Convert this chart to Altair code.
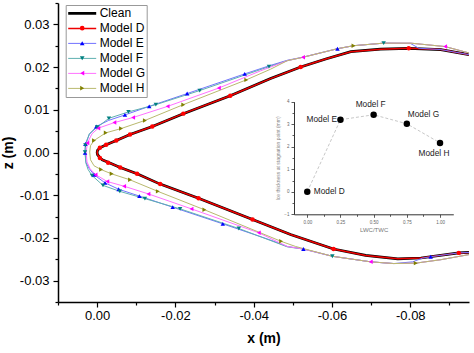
import altair as alt
import pandas as pd

FONT = "Liberation Sans"

series_all = ["Clean", "Model D", "Model E", "Model F", "Model G", "Model H"]
series_iced = ["Model D", "Model E", "Model F", "Model G", "Model H"]

# ---- clean airfoil outline (upper trailing -> leading edge -> lower trailing) ----
clean_x = [-0.0950, -0.0878, -0.0796, -0.0724, -0.0648, -0.0584, -0.0520, -0.0443, -0.0340,
           -0.0220, -0.0141, -0.0084, -0.0049, -0.0023, -0.0007, -0.0001, 0.0000, -0.0001,
           -0.0007, -0.0013, -0.0031, -0.0059, -0.0102, -0.0161, -0.0259, -0.0397, -0.0494,
           -0.0604, -0.0686, -0.0768, -0.0827, -0.0924, -0.0950]
clean_z = [0.0229, 0.0241, 0.0244, 0.0242, 0.0236, 0.0219, 0.0200, 0.0173, 0.0133,
           0.0091, 0.0061, 0.0042, 0.0028, 0.0018, 0.0011, 0.0005, 0.0000, -0.0005,
           -0.0012, -0.0017, -0.0024, -0.0035, -0.0050, -0.0074, -0.0107, -0.0157, -0.0192,
           -0.0226, -0.0241, -0.0249, -0.0247, -0.0235, -0.0234]

# Model D (no ice) follows the clean outline
D_x = clean_x
D_z = clean_z
D_mx = [-0.0796, -0.0520, -0.0340, -0.0220, -0.0141, -0.0084, -0.0049, -0.0023, -0.0007,
        -0.0007, -0.0028, -0.0059, -0.0102, -0.0161, -0.0259, -0.0397, -0.0604, -0.0924]
D_mz = [0.0244, 0.0200, 0.0133, 0.0091, 0.0061, 0.0042, 0.0028, 0.0018, 0.0011,
        -0.0013, -0.0024, -0.0035, -0.0050, -0.0074, -0.0107, -0.0157, -0.0226, -0.0235]

E_x = [-0.0950, -0.0878, -0.0822, -0.0801, -0.0732, -0.0655, -0.0614, -0.0525, -0.0486,
       -0.0443, -0.0377, -0.0230, -0.0133, -0.0071, -0.0029, 0.0002, 0.0020, 0.0030, 0.0031,
       0.0028, 0.0020, 0.0008, -0.0020, -0.0055, -0.0108, -0.0193, -0.0321, -0.0443, -0.0486,
       -0.0527, -0.0601, -0.0699, -0.0758, -0.0806, -0.0832, -0.0852, -0.0924, -0.0950]
E_z = [0.0229, 0.0241, 0.0244, 0.0255, 0.0256, 0.0250, 0.0243, 0.0223, 0.0216,
       0.0204, 0.0184, 0.0138, 0.0108, 0.0088, 0.0075, 0.0061, 0.0042, 0.0020, -0.0001,
       -0.0024, -0.0038, -0.0052, -0.0071, -0.0086, -0.0102, -0.0128, -0.0167, -0.0205, -0.0220,
       -0.0226, -0.0243, -0.0256, -0.0260, -0.0256, -0.0247, -0.0244, -0.0235, -0.0234]
E_mx = [-0.0614, -0.0377, -0.0230, -0.0133, -0.0071, 0.0002, 0.0030, 0.0031, 0.0008,
        -0.0020, -0.0055, -0.0108, -0.0193, -0.0321, -0.0527, -0.0852]
E_mz = [0.0243, 0.0184, 0.0138, 0.0108, 0.0088, 0.0061, 0.0020, -0.0001, -0.0052,
        -0.0071, -0.0086, -0.0102, -0.0128, -0.0167, -0.0226, -0.0244]

F_x = [-0.0950, -0.0889, -0.0801, -0.0732, -0.0655, -0.0614, -0.0526, -0.0486, -0.0439,
       -0.0262, -0.0150, -0.0080, -0.0030, 0.0000, 0.0020, 0.0030, 0.0031, 0.0029, 0.0023,
       0.0013, -0.0015, -0.0058, -0.0122, -0.0212, -0.0362, -0.0486, -0.0527, -0.0601,
       -0.0699, -0.0758, -0.0814, -0.0878, -0.0950]
F_z = [0.0233, 0.0248, 0.0256, 0.0256, 0.0250, 0.0243, 0.0223, 0.0215, 0.0201,
       0.0145, 0.0112, 0.0095, 0.0080, 0.0059, 0.0044, 0.0017, 0.0001, -0.0024, -0.0040,
       -0.0054, -0.0077, -0.0091, -0.0108, -0.0132, -0.0178, -0.0221, -0.0226, -0.0243,
       -0.0256, -0.0260, -0.0259, -0.0251, -0.0239]
F_mx = [-0.0732, -0.0439, -0.0262, -0.0150, -0.0080, -0.0030, 0.0000, 0.0030, 0.0031,
        0.0013, -0.0015, -0.0058, -0.0122, -0.0212, -0.0362, -0.0601]
F_mz = [0.0256, 0.0201, 0.0145, 0.0112, 0.0095, 0.0080, 0.0059, 0.0017, 0.0001,
        -0.0054, -0.0077, -0.0091, -0.0108, -0.0132, -0.0178, -0.0243]

G_x = [-0.0950, -0.0889, -0.0801, -0.0732, -0.0655, -0.0614, -0.0526, -0.0486, -0.0417,
       -0.0311, -0.0180, -0.0092, -0.0044, -0.0003, 0.0013, 0.0025, 0.0028, 0.0026, 0.0018,
       0.0004, -0.0026, -0.0069, -0.0131, -0.0241, -0.0413, -0.0486, -0.0527, -0.0601,
       -0.0699, -0.0758, -0.0814, -0.0878, -0.0950]
G_z = [0.0233, 0.0248, 0.0256, 0.0256, 0.0250, 0.0243, 0.0223, 0.0215, 0.0191,
       0.0151, 0.0108, 0.0082, 0.0070, 0.0057, 0.0044, 0.0022, 0.0000, -0.0022, -0.0038,
       -0.0052, -0.0068, -0.0079, -0.0097, -0.0132, -0.0188, -0.0220, -0.0226, -0.0243,
       -0.0256, -0.0260, -0.0259, -0.0251, -0.0239]
G_mx = [-0.0889, -0.0526, -0.0311, -0.0180, -0.0092, -0.0044, -0.0003, 0.0025, 0.0004,
        -0.0026, -0.0069, -0.0131, -0.0241, -0.0413, -0.0699]
G_mz = [0.0248, 0.0223, 0.0151, 0.0108, 0.0082, 0.0070, 0.0057, 0.0022, -0.0052,
        -0.0068, -0.0079, -0.0097, -0.0132, -0.0188, -0.0256]

H_x = [-0.0950, -0.0889, -0.0801, -0.0732, -0.0655, -0.0614, -0.0526, -0.0486, -0.0443,
       -0.0381, -0.0220, -0.0122, -0.0061, -0.0022, 0.0008, 0.0017, 0.0019, 0.0017, 0.0008,
       -0.0010, -0.0037, -0.0084, -0.0155, -0.0274, -0.0470, -0.0507, -0.0601, -0.0699,
       -0.0758, -0.0814, -0.0878, -0.0950]
H_z = [0.0233, 0.0248, 0.0256, 0.0256, 0.0250, 0.0243, 0.0223, 0.0215, 0.0195,
       0.0170, 0.0112, 0.0075, 0.0056, 0.0046, 0.0028, 0.0016, 0.0001, -0.0017, -0.0031,
       -0.0040, -0.0050, -0.0064, -0.0091, -0.0134, -0.0208, -0.0220, -0.0243, -0.0256,
       -0.0260, -0.0259, -0.0251, -0.0239]
H_mx = [-0.0655, -0.0381, -0.0220, -0.0122, -0.0061, -0.0022, 0.0008, -0.0010, -0.0037,
        -0.0084, -0.0155, -0.0274, -0.0470, -0.0814]
H_mz = [0.0250, 0.0170, 0.0112, 0.0075, 0.0056, 0.0046, 0.0028, -0.0040, -0.0050,
        -0.0064, -0.0091, -0.0134, -0.0208, -0.0259]

# ---- inset: ice thickness at stagnation point ----
inset_names = ["Model D", "Model E", "Model F", "Model G", "Model H"]
inset_lwc_twc = [0.00, 0.25, 0.50, 0.75, 1.00]
inset_thickness = [0.00, 3.20, 3.42, 3.02, 2.17]

# tick values
x_ticks = [0.01, 0.00, -0.01, -0.02, -0.03, -0.04, -0.05, -0.06, -0.07, -0.08, -0.09]
y_ticks = [-0.035, -0.03, -0.025, -0.02, -0.015, -0.01, -0.005, 0.0, 0.005, 0.01,
           0.015, 0.02, 0.025, 0.03, 0.035]
inset_x_ticks = [0.0, 0.125, 0.25, 0.375, 0.5, 0.625, 0.75, 0.875, 1.0]
inset_y_ticks = [-1, -0.5, 0, 0.5, 1, 1.5, 2, 2.5, 3, 3.5, 4]

line_colors = ["#000000", "#ee0000", "#7272ff", "#5fb0b0", "#ff72ff", "#b9b96e"]
line_widths = [2.7, 1.5, 1, 1, 1, 1]
marker_colors = ["#ff0000", "#0000ff", "#008080", "#ff00ff", "#808000"]
marker_shapes = ["circle", "triangle-up", "triangle-down", "triangle-left", "triangle-right"]

# ---- build tables ----
line_src = [("Clean", clean_x, clean_z), ("Model D", D_x, D_z), ("Model E", E_x, E_z),
            ("Model F", F_x, F_z), ("Model G", G_x, G_z), ("Model H", H_x, H_z)]
rows = []
for s, xs_, zs_ in line_src:
    for i, (a, b) in enumerate(zip(xs_, zs_)):
        rows.append({"series": s, "x": a, "z": b, "idx": i})
lines_df = pd.DataFrame(rows)

mark_src = [("Model D", D_mx, D_mz), ("Model E", E_mx, E_mz), ("Model F", F_mx, F_mz),
            ("Model G", G_mx, G_mz), ("Model H", H_mx, H_mz)]
mrows = []
for s, xs_, zs_ in mark_src:
    for a, b in zip(xs_, zs_):
        mrows.append({"series": s, "x": a, "z": b})
marks_df = pd.DataFrame(mrows)

inset_df = pd.DataFrame({"name": inset_names, "lwc": inset_lwc_twc, "thick": inset_thickness})

# ---- axes ----
x_major = "abs(datum.value*50 - round(datum.value*50)) < 0.001"
y_major = "abs(datum.value*100 - round(datum.value*100)) < 0.001"

x_axis = alt.Axis(
    values=x_ticks, title="x (m)",
    labelExpr=f"{x_major} ? replace(format(datum.value, '.2f'), '\u2212', '-') : ''",
    tickSize={"condition": {"test": x_major, "value": 5}, "value": 3},
    labelFontSize=13, labelFont=FONT, labelColor="black", labelPadding=2,
    titleFont=FONT, titleFontSize=14, titleFontWeight="bold", titleColor="black", titlePadding=9,
    domainColor="black", domainWidth=1.5, tickColor="black", tickWidth=1.2,
    labelFlush=False, labelOverlap=False, grid=False,
)
y_axis = alt.Axis(
    values=y_ticks, title="z (m)",
    labelExpr=f"{y_major} ? replace(format(datum.value, '.2f'), '\u2212', '-') : ''",
    tickSize={"condition": {"test": y_major, "value": 5}, "value": 3},
    labelFontSize=13, labelFont=FONT, labelColor="black", labelPadding=4,
    titleFont=FONT, titleFontSize=14, titleFontWeight="bold", titleColor="black", titlePadding=4,
    domainColor="black", domainWidth=1.5, tickColor="black", tickWidth=1.2,
    labelFlush=False, labelOverlap=False, grid=False,
)

xs = alt.Scale(domain=[0.01, -0.095], nice=False, zero=False)
ys = alt.Scale(domain=[-0.035, 0.035], nice=False, zero=False)

line_legend = alt.Legend(
    title=None, orient="none", legendX=7.7, legendY=2, symbolType="stroke", symbolSize=784,
    clipHeight=14.8, rowPadding=0, padding=1, strokeColor="#999999", labelFontSize=12,
    labelFont=FONT, labelColor="black", symbolOffset=0, labelOffset=2,
)
point_legend = alt.Legend(
    title=None, orient="none", legendX=7.7, legendY=16.8, clipHeight=14.8, rowPadding=0,
    padding=1, symbolSize=22, symbolOffset=9.5, labelFontSize=12, labelFont=FONT,
    labelExpr="''", symbolStrokeWidth=0,
)

lines = alt.Chart(lines_df).mark_line(clip=True).encode(
    x=alt.X("x:Q", scale=xs, axis=x_axis),
    y=alt.Y("z:Q", scale=ys, axis=y_axis),
    color=alt.Color("series:N", scale=alt.Scale(domain=series_all, range=line_colors),
                    legend=line_legend),
    strokeWidth=alt.StrokeWidth("series:N",
                                scale=alt.Scale(type="ordinal", domain=series_all, range=line_widths),
                                legend=line_legend),
    order=alt.Order("idx:Q"),
)

points = alt.Chart(marks_df).mark_point(filled=True, size=20, opacity=1, clip=True).encode(
    x=alt.X("x:Q", scale=xs, axis=x_axis),
    y=alt.Y("z:Q", scale=ys, axis=y_axis),
    fill=alt.Fill("series:N", scale=alt.Scale(domain=series_iced, range=marker_colors),
                  legend=point_legend),
    shape=alt.Shape("series:N", scale=alt.Scale(domain=series_iced, range=marker_shapes),
                    legend=point_legend),
)

main = alt.layer(lines, points)

# ---- inset ----
ix_axis = alt.Axis(
    orient="bottom", offset=-87.7, values=inset_x_ticks, title="LWC/TWC",
    labelExpr="abs(datum.value*4 - round(datum.value*4)) < 0.001 ? format(datum.value, '.2f') : ''",
    tickSize={"condition": {"test": "abs(datum.value*4 - round(datum.value*4)) < 0.001", "value": 3}, "value": 2},
    labelFontSize=4.5, labelFont=FONT, labelColor="#666666", labelPadding=2,
    titleFont=FONT, titleFontSize=6, titleFontWeight="normal", titleColor="#777777", titlePadding=3,
    domainColor="#333333", domainWidth=1, tickColor="#333333", tickWidth=0.8,
    labelFlush=False, labelOverlap=False, grid=False,
)
iy_axis = alt.Axis(
    orient="left", offset=-236, values=inset_y_ticks,
    title="Ice thickness at stagnation point (mm)",
    labelExpr="abs(datum.value - round(datum.value)) < 0.001 ? format(datum.value, 'd') : ''",
    tickSize={"condition": {"test": "abs(datum.value - round(datum.value)) < 0.001", "value": 3}, "value": 2},
    labelFontSize=4.5, labelFont=FONT, labelColor="#666666", labelPadding=2,
    titleFont=FONT, titleFontSize=5, titleFontWeight="normal", titleColor="#888888", titlePadding=3,
    domainColor="#333333", domainWidth=1, tickColor="#333333", tickWidth=0.8,
    labelFlush=False, labelOverlap=False, grid=False,
)
ixs = alt.Scale(domain=[-0.1, 1.1], range=[236, 395.3], nice=False, zero=False)
iys = alt.Scale(domain=[-1, 4], range=[211.3, 98.7], nice=False, zero=False)

ibase = alt.Chart(inset_df).encode(
    x=alt.X("lwc:Q", scale=ixs, axis=ix_axis),
    y=alt.Y("thick:Q", scale=iys, axis=iy_axis),
)
iline = ibase.mark_line(color="#c8c8c8", strokeDash=[3, 2], strokeWidth=1)
ipts = ibase.mark_point(filled=True, color="black", size=42, opacity=1)

label_specs = [
    ("Model D", "left", 6.5, 0),
    ("Model E", "right", -3.5, 0),
    ("Model F", "center", -3, -9.5),
    ("Model G", "left", 1, -8.7),
    ("Model H", "center", -6, 11),
]
itexts = []
for nm, al, ddx, ddy in label_specs:
    itexts.append(
        ibase.transform_filter(alt.datum.name == nm).mark_text(
            align=al, baseline="middle", dx=ddx, dy=ddy, fontSize=8.3, font=FONT, color="#222222"
        ).encode(text="name:N")
    )

inset = alt.layer(iline, ipts, *itexts)

chart = alt.layer(main, inset).resolve_scale(x="independent", y="independent").properties(
    width=411, height=299,
    padding={"left": 58, "top": 3, "right": 5, "bottom": 51},
    autosize=alt.AutoSizeParams(type="none"),
    background="white",
).configure_view(stroke=None)

chart.save("out.html", embed_options={"renderer": "svg", "actions": False})
